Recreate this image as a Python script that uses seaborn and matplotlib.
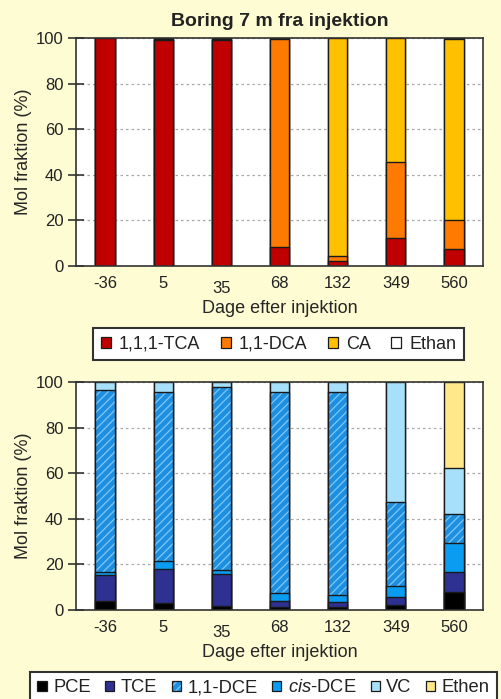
import numpy as np
import pandas as pd
import matplotlib
matplotlib.use("Agg")
import matplotlib.pyplot as plt
import matplotlib.colors as mcolors
from matplotlib.patches import Patch
from matplotlib.transforms import ScaledTranslation
import seaborn as sns

# ---------------- data ----------------
days = ["-36", "5", "35", "68", "132", "349", "560"]

# upper panel (ethanes)
tca = [100.0, 99.0, 99.0, 8.2, 2.0, 12.4, 7.3]
dca = [0.0, 0.5, 0.5, 91.3, 2.3, 33.2, 12.7]
ca = [0.0, 0.0, 0.0, 0.0, 95.7, 54.4, 79.5]
ethan = [0.0, 0.5, 0.5, 0.5, 0.0, 0.0, 0.5]
top_names = ["1,1,1-TCA", "1,1-DCA", "CA", "Ethan"]

# lower panel (ethenes)
pce = [4.1, 2.9, 1.8, 1.5, 1.5, 2.2, 7.8]
tce = [11.1, 15.1, 13.8, 2.3, 1.8, 3.3, 8.7]
cis_dce = [1.6, 3.3, 1.9, 3.5, 3.3, 5.2, 12.8]
dce11 = [79.8, 74.1, 80.3, 88.3, 89.0, 36.7, 12.9]
vc = [3.4, 4.6, 2.2, 4.4, 4.4, 52.6, 19.9]
ethen = [0.0, 0.0, 0.0, 0.0, 0.0, 0.0, 37.9]
bot_names = ["PCE", "TCE", "1,1-DCE", r"$\mathit{cis}$-DCE", "VC", "Ethen"]

title = "Boring 7 m fra injektion"
xlabel = "Dage efter injektion"
ylabel = "Mol fraktion (%)"

# ---------------- style ----------------
BG = "#FEFCD2"
sns.set_theme(style="white")
plt.rcParams["font.family"] = ["Liberation Sans", "DejaVu Sans"]
plt.rcParams["mathtext.fontset"] = "custom"
plt.rcParams["mathtext.rm"] = "Liberation Sans"
plt.rcParams["mathtext.it"] = "Liberation Sans:italic"
plt.rcParams["hatch.linewidth"] = 0.9
plt.rcParams["text.color"] = "#222222"

top_colors = ["#C00000", "#FF7A00", "#FFC000", "#FFFFFF"]
bot_colors = ["#000000", "#2E3192", "#1E8FE0", "#0A9CF0", "#A6E0FA", "#FFE88A"]
bot_hatch = [None, None, "////", None, None, None]
HATCH_COLOR = "#7CC8F8"

fig = plt.figure(figsize=(5.01, 6.99), dpi=100, facecolor=BG)
ax_top = fig.add_axes([76 / 501, 1 - 266 / 699, 407 / 501, 228 / 699])
ax_bot = fig.add_axes([76 / 501, 1 - 610 / 699, 407 / 501, 228 / 699])

BAR_W = 0.33


def stacked(ax, series, colors, hatches):
    df = pd.DataFrame(np.array(series).T, columns=range(len(series)))
    df["day"] = days
    cum = df[list(range(len(series)))].cumsum(axis=1)
    # draw from top of stack downward so lower segments cover upper ones
    for i in reversed(range(len(series))):
        n0 = len(ax.patches)
        sns.barplot(x=df["day"], y=cum[i], order=days, color=colors[i],
                    saturation=1, width=BAR_W, edgecolor="#1a1a1a",
                    linewidth=1.0, errorbar=None, hatch=hatches[i], ax=ax)
        if hatches[i]:
            for p in ax.patches[n0:]:
                p._hatch_color = mcolors.to_rgba(HATCH_COLOR)


def style_axes(ax):
    ax.set_facecolor("white")
    ax.set_xlim(-0.5, len(days) - 0.5)
    ax.set_ylim(0, 100)
    ax.set_yticks([0, 20, 40, 60, 80, 100])
    ax.yaxis.grid(True, linestyle=(0, (2.0, 2.4)), color="#A8A8A8", lw=0.9)
    ax.xaxis.grid(False)
    ax.set_axisbelow(True)
    for s in ax.spines.values():
        s.set_color("#333333")
        s.set_linewidth(1.2)
    ax.set_xticks(np.arange(-0.5, len(days), 1.0), minor=True)
    ax.tick_params(axis="x", which="major", length=0, pad=7, labelsize=12,
                   labelcolor="#222222")
    ax.tick_params(axis="x", which="minor", direction="inout", length=11,
                   width=1.2, color="#333333")
    ax.tick_params(axis="y", which="major", direction="inout", length=12,
                   width=1.2, color="#333333", pad=3, labelsize=12,
                   labelcolor="#222222", left=True)
    ax.set_xlabel(xlabel, fontsize=13, labelpad=3)
    ax.set_ylabel(ylabel, fontsize=13, labelpad=3)
    # the "35" label sits slightly lower in the original
    lab = ax.get_xticklabels()[2]
    lab.set_transform(lab.get_transform() +
                      ScaledTranslation(0, -4 / 72, fig.dpi_scale_trans))


stacked(ax_top, [tca, dca, ca, ethan], top_colors, [None] * 4)
style_axes(ax_top)
ax_top.set_title(title, fontsize=14, fontweight="bold", pad=9)

stacked(ax_bot, [pce, tce, cis_dce, dce11, vc, ethen],
        [bot_colors[0], bot_colors[1], bot_colors[3], bot_colors[2],
         bot_colors[4], bot_colors[5]],
        [None, None, None, "////", None, None])
style_axes(ax_bot)

# ---------------- legends ----------------
h_top = [Patch(facecolor=c, edgecolor="#1a1a1a", lw=0.9) for c in top_colors]
leg1 = fig.legend(h_top, top_names, loc="upper left",
                  bbox_to_anchor=(93 / 501, 1 - 328 / 699),
                  bbox_transform=fig.transFigure, ncol=4, frameon=True,
                  fancybox=False, edgecolor="#333333", facecolor="white",
                  framealpha=1, fontsize=13, handlelength=0.55,
                  handleheight=0.55, handletextpad=0.44, columnspacing=1.15,
                  borderpad=0.42, borderaxespad=0)
leg1.get_frame().set_linewidth(1.5)

h_bot = []
for c, h in zip(bot_colors, bot_hatch):
    p = Patch(facecolor=c, edgecolor="#1a1a1a", lw=0.9, hatch=h)
    if h:
        p._hatch_color = mcolors.to_rgba(HATCH_COLOR)
    h_bot.append(p)
leg2 = fig.legend(h_bot, bot_names, loc="upper left",
                  bbox_to_anchor=(30 / 501, 1 - 672 / 699),
                  bbox_transform=fig.transFigure, ncol=6, frameon=True,
                  fancybox=False, edgecolor="#333333", facecolor="white",
                  framealpha=1, fontsize=13.2, handlelength=0.5,
                  handleheight=0.5, handletextpad=0.36, columnspacing=0.78,
                  borderpad=0.4, borderaxespad=0)
leg2.get_frame().set_linewidth(1.5)

fig.savefig("out.png", dpi=100, facecolor=BG)
